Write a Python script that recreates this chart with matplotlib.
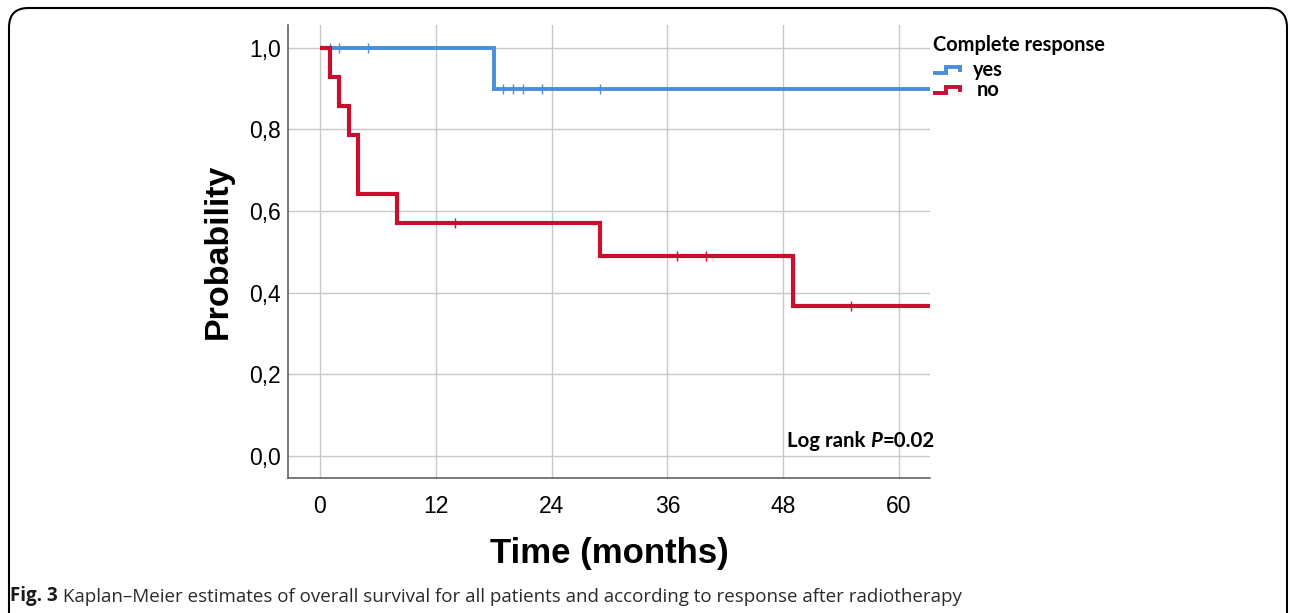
import matplotlib
matplotlib.use("Agg")
import matplotlib.pyplot as plt
from matplotlib.lines import Line2D
from matplotlib.patches import FancyBboxPatch

# Kaplan-Meier steps, complete response = yes
yes_time = [0, 18, 63.2]
yes_surv = [1.0, 0.9, 0.9]
yes_cens_time = [1, 2, 5, 19, 20, 21, 23, 29]
yes_cens_surv = [1.0, 1.0, 1.0, 0.9, 0.9, 0.9, 0.9, 0.9]

# complete response = no
no_time = [0, 1, 2, 3, 4, 8, 29, 49, 63.2]
no_surv = [1.0, 0.929, 0.857, 0.786, 0.643, 0.571, 0.490, 0.367, 0.367]
no_cens_time = [14, 37, 40, 55]
no_cens_surv = [0.571, 0.490, 0.490, 0.367]

x_ticks = [0, 12, 24, 36, 48, 60]
y_ticks = [0.0, 0.2, 0.4, 0.6, 0.8, 1.0]
y_labels = ["0,0", "0,2", "0,4", "0,6", "0,8", "1,0"]

BLUE = "#4a8ddb"
RED = "#c8102e"

W, H = 1290, 613
fig = plt.figure(figsize=(W / 100, H / 100), dpi=100)
ax = fig.add_axes([288 / W, 1 - 478 / H, (930 - 288) / W, (478 - 25) / H])

ax.step(yes_time, yes_surv, where="post", color=BLUE, lw=2.8, zorder=3,
        solid_joinstyle="miter", solid_capstyle="butt")
ax.plot(yes_cens_time, yes_cens_surv, ls="none", marker="|", ms=7, mew=1,
        color=BLUE, zorder=3)
ax.step(no_time, no_surv, where="post", color=RED, lw=3.0, zorder=4,
        solid_joinstyle="miter", solid_capstyle="butt")
ax.plot(no_cens_time, no_cens_surv, ls="none", marker="|", ms=7, mew=1,
        color=RED, zorder=4)

ax.set_xlim(-3.3, 63.2)
ax.set_ylim(-0.054, 1.056)
ax.set_xticks(x_ticks)
ax.set_yticks(y_ticks)
ax.set_yticklabels(y_labels)
ax.tick_params(length=0, labelsize=16.5)
ax.tick_params(axis="x", pad=12)
ax.tick_params(axis="y", pad=5)
for lab in ax.get_xticklabels() + ax.get_yticklabels():
    lab.set_family("Liberation Sans")
ax.grid(True, color="#c8c8c8", lw=1)
ax.set_axisbelow(True)
for s in ["top", "right"]:
    ax.spines[s].set_visible(False)
for s in ["left", "bottom"]:
    ax.spines[s].set_color("#555555")
    ax.spines[s].set_linewidth(1.1)

ax.set_ylabel("Probability", fontsize=24.5, fontweight="bold",
              family="Liberation Sans", labelpad=11)
ax.set_xlabel("Time (months)", fontsize=25, fontweight="bold",
              family="Liberation Sans", labelpad=14)

# legend drawn by hand
fig.text(933 / W, 1 - 45 / H, "Complete response", fontsize=14.4,
         fontweight="bold", family="Lato", va="center", ha="left")
for (y0, col, lab, lx) in [(70, BLUE, "yes", 973), (90, RED, "no", 977)]:
    xs = [933, 946, 946, 960, 960]
    ys = [y0 + 2.5, y0 + 2.5, y0 - 3.5, y0 - 3.5, y0 + 1.5]
    fig.add_artist(Line2D([x / W for x in xs], [1 - y / H for y in ys],
                          color=col, lw=2.8, solid_joinstyle="miter",
                          solid_capstyle="butt"))
    fig.text(lx / W, 1 - y0 / H, lab, fontsize=14.4, fontweight="bold",
             family="Lato", va="center", ha="left")

# log rank annotation
t1 = fig.text(787 / W, 1 - 451 / H, "Log rank ", fontsize=14.7,
              fontweight="bold", family="Lato", va="bottom", ha="left")
t2 = ax.annotate("P", xy=(1, 0), xycoords=t1, fontsize=14.7,
                 fontweight="bold", style="italic", family="Lato",
                 va="bottom", ha="left", annotation_clip=False)
ax.annotate("=0.02", xy=(1, 0), xycoords=t2, fontsize=14.7,
            fontweight="bold", family="Lato", va="bottom", ha="left",
            annotation_clip=False)

# caption
c1 = fig.text(10 / W, 1 - 606 / H, "Fig. 3", fontsize=13.5, fontweight="bold",
              family="Open Sans", color="#1a1a1a", va="bottom", ha="left")
ax.annotate(" Kaplan\u2013Meier estimates of overall survival for all patients "
            "and according to response after radiotherapy",
            xy=(1, 0), xycoords=c1, fontsize=13.5, family="Open Sans",
            color="#2a2a2a", va="bottom", ha="left", annotation_clip=False)

# rounded frame, open at the bottom edge
frame = FancyBboxPatch((9 / W, -0.2), (1287 - 9) / W, 1.2 - 8 / H,
                       boxstyle="round,pad=0,rounding_size=0.015",
                       transform=fig.transFigure, fill=False,
                       edgecolor="black", lw=1.5,
                       mutation_aspect=W / H)
fig.patches.append(frame)

fig.savefig("out.png", dpi=100)
